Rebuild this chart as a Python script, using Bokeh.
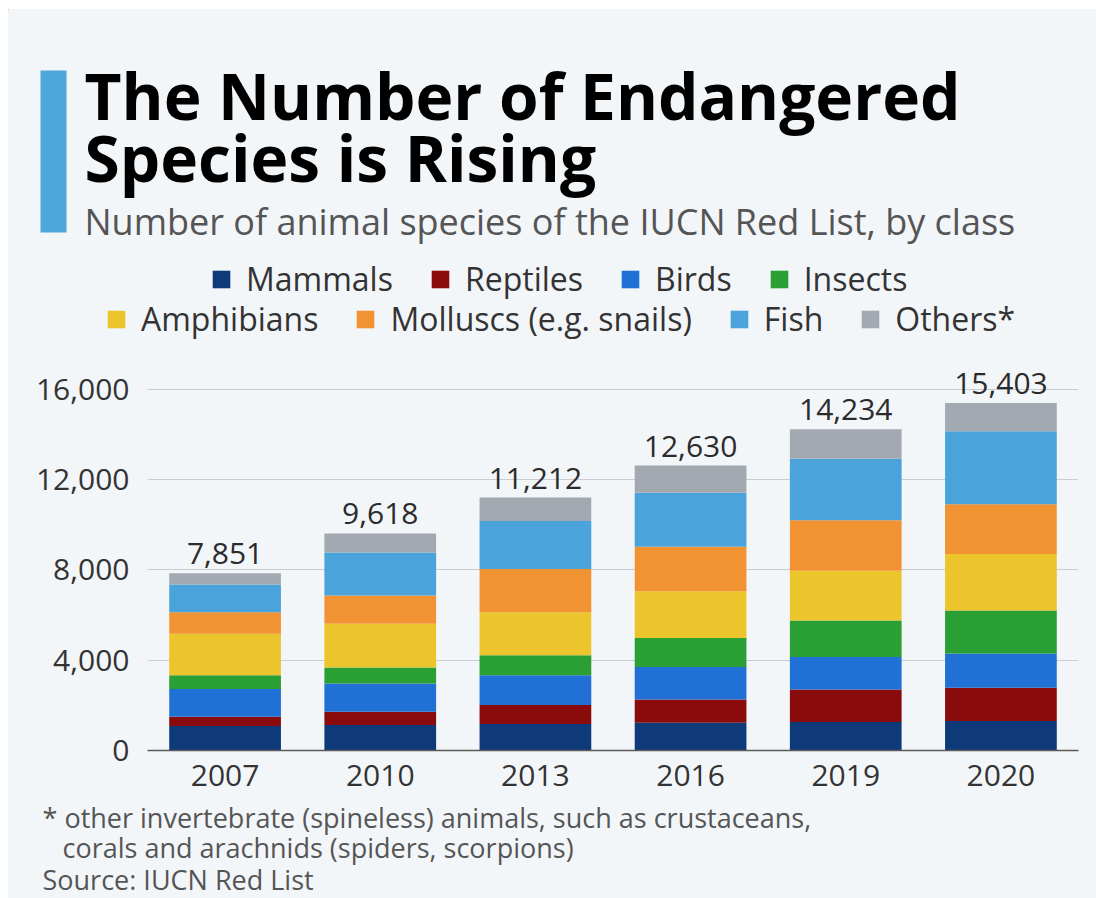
from bokeh.plotting import figure
from bokeh.layouts import column
from bokeh.models import (Label, BoxAnnotation, Legend, LegendItem, FixedTicker,
                          Range1d, FactorRange, ColumnDataSource, NumeralTickFormatter)
from bokeh.embed import file_html
from bokeh.resources import INLINE
from bokeh.core.properties import value

# ---------------- data ----------------
years = ["2007", "2010", "2013", "2016", "2019", "2020"]
mammals = [1088, 1132, 1176, 1235, 1265, 1309]
reptiles = [412, 589, 839, 1030, 1441, 1470]
birds = [1221, 1250, 1323, 1441, 1441, 1515]
insects = [617, 705, 883, 1279, 1618, 1912]
amphibians = [1838, 1942, 1911, 2074, 2206, 2500]
molluscs = [956, 1250, 1912, 1970, 2235, 2206]
fish = [1221, 1911, 2132, 2397, 2720, 3235]
others = [498, 839, 1036, 1204, 1308, 1256]
classes = ["Mammals", "Reptiles", "Birds", "Insects",
           "Amphibians", "Molluscs (e.g. snails)", "Fish", "Others*"]
y_ticks = [0, 4000, 8000, 12000, 16000]

colors = ["#0e3a7a", "#8a0b0c", "#2070d6", "#2aa034",
          "#ecc42c", "#f29333", "#4aa3db", "#a3a9b0"]

series = [mammals, reptiles, birds, insects, amphibians, molluscs, fish, others]
keys = ["s%d" % i for i in range(len(series))]
data = {"year": years}
for k, s in zip(keys, series):
    data[k] = s
source = ColumnDataSource(data)

totals = [sum(v) for v in zip(*series)]
tot_src = ColumnDataSource(dict(year=years, total=totals,
                                label=["{:,}".format(t) for t in totals]))

BG = "#f3f6f9"
FONT = "Open Sans"
W = 1088


def blank(height, y0, y1):
    f = figure(width=W, height=height, x_range=Range1d(8, 8 + W),
               y_range=Range1d(y1, y0), output_backend="svg",
               toolbar_location=None, x_axis_location=None,
               y_axis_location=None, min_border=0, frame_align=False)
    f.background_fill_color = BG
    f.border_fill_color = BG
    f.outline_line_color = None
    f.grid.visible = False
    return f


# ---------------- header ----------------
head = blank(331, 9, 340)
head.add_layout(BoxAnnotation(left=40, right=66, top=70, bottom=232,
                              fill_color="#4ea6dc", fill_alpha=1, line_color=None))
head.add_layout(Label(x=84, y=95, text="The Number of Endangered", text_font=FONT,
                      text_font_style="bold", text_font_size="64px",
                      text_color="#000000", text_baseline="middle"))
head.add_layout(Label(x=84, y=157, text="Species is Rising", text_font=FONT,
                      text_font_style="bold", text_font_size="64px",
                      text_color="#000000", text_baseline="middle"))
head.add_layout(Label(x=84, y=221,
                      text="Number of animal species of the IUCN Red List, by class",
                      text_font=FONT, text_font_size="36px", text_color="#555555",
                      text_baseline="middle"))

# ---------------- chart ----------------
p = figure(x_range=FactorRange(*years), y_range=Range1d(0, 17019),
           width=W, height=460, output_backend="svg", toolbar_location=None,
           min_border_left=139, min_border_right=18, min_border_top=26,
           min_border_bottom=50, frame_align=False)
p.background_fill_color = BG
p.border_fill_color = BG
p.outline_line_color = None

renderers = p.vbar_stack(keys, x="year", width=0.72, color=colors,
                         line_color=None, source=source)

p.text(x="year", y="total", text="label", source=tot_src, y_offset=-9,
       text_align="center", text_baseline="bottom", text_font=value(FONT),
       text_font_size="30px", text_color="#2b2b2b")

p.xgrid.grid_line_color = None
p.ygrid.grid_line_color = "#c9cdd2"
p.ygrid.grid_line_width = 1
p.yaxis.ticker = FixedTicker(ticks=y_ticks)
p.yaxis.formatter = NumeralTickFormatter(format="0,0")
p.yaxis.axis_line_color = None
p.yaxis.major_tick_line_color = None
p.yaxis.minor_tick_line_color = None
p.yaxis.major_label_standoff = 12
p.xaxis.axis_line_color = "#5a5a5a"
p.xaxis.axis_line_width = 1.5
p.xaxis.major_tick_line_color = None
p.xaxis.minor_tick_line_color = None
p.xaxis.major_label_standoff = 8
for ax in (p.xaxis, p.yaxis):
    ax.major_label_text_font = FONT
    ax.major_label_text_font_size = "30px"
    ax.major_label_text_color = "#333333"

# legend in the header; zero-size swatch renderers carry the class colours
swatches = [head.vbar(x=[0], bottom=[0], top=[0], width=0, fill_color=c,
                      line_color=None) for c in colors]


def make_legend(idx, loc):
    items = [LegendItem(label=classes[i], renderers=[swatches[i]]) for i in idx]
    return Legend(items=items, location=loc, orientation="horizontal",
                  glyph_width=22, glyph_height=22, label_standoff=14, spacing=36,
                  padding=0, margin=0, border_line_color=None,
                  background_fill_alpha=0, label_text_font=FONT,
                  label_text_font_size="32px", label_text_color="#333333",
                  label_height=34)


head.add_layout(make_legend([0, 1, 2, 3], (202, 40)))
head.add_layout(make_legend([4, 5, 6, 7], (97, 0)))

# ---------------- footer ----------------
foot = blank(98, 800, 898)
for tx, xx, yy in [("* other invertebrate (spineless) animals, such as crustaceans,", 42, 817),
                   ("corals and arachnids (spiders, scorpions)", 62, 847),
                   ("Source: IUCN Red List", 42, 879)]:
    foot.add_layout(Label(x=xx, y=yy, text=tx, text_font=FONT, text_font_size="27px",
                          text_color="#555555", text_baseline="middle"))

layout = column(head, p, foot, spacing=0, margin=(9, 0, 0, 8),
                styles={"background-color": BG})
open("out.html", "w").write(file_html(layout, INLINE))
